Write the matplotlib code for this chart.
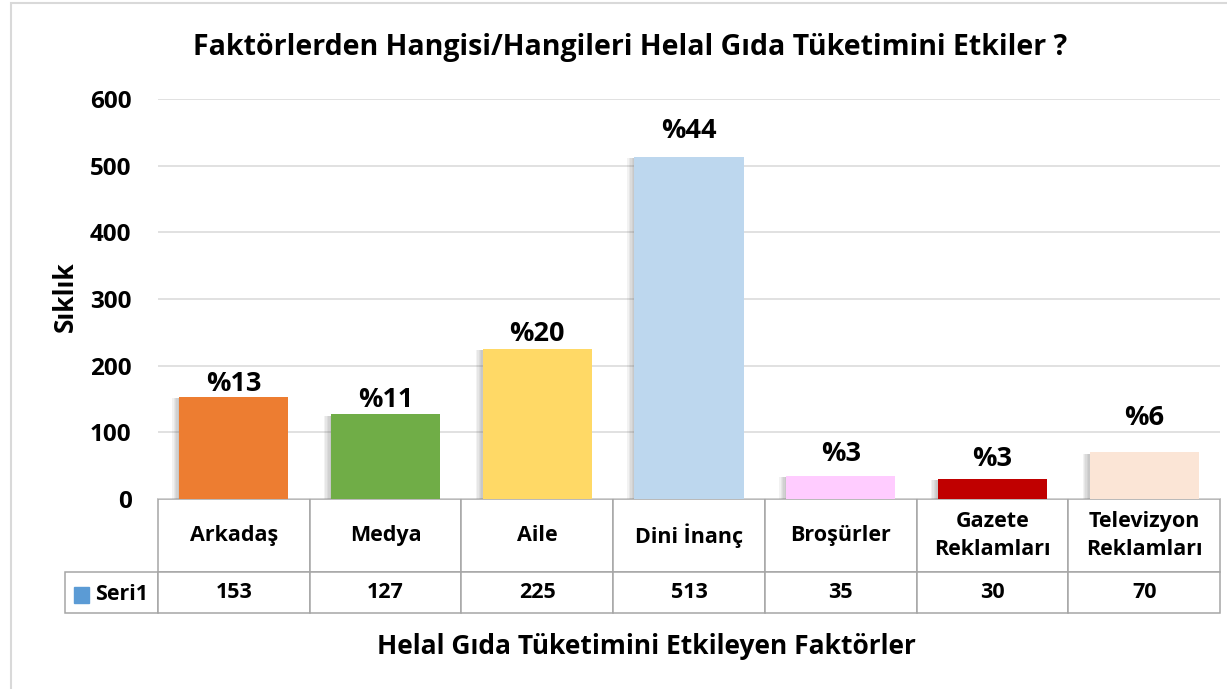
import matplotlib
matplotlib.use('Agg')
import matplotlib.pyplot as plt
from matplotlib import patheffects as pe
from matplotlib.patches import Rectangle

plt.rcParams['font.family'] = ['Open Sans', 'DejaVu Sans']
plt.rcParams['font.weight'] = 'bold'

# veriler
kategoriler = ['Arkadaş', 'Medya', 'Aile', 'Dini İnanç', 'Broşürler',
               'Gazete\nReklamları', 'Televizyon\nReklamları']
siklik = [153, 127, 225, 513, 35, 30, 70]
yuzde = ['%13', '%11', '%20', '%44', '%3', '%3', '%6']
renkler = ['#ED7D31', '#70AD47', '#FFD966', '#BDD7EE', '#FFCCFF', '#C00000', '#FBE5D6']
etiket_pay = [19, 21, 22, 39, 32, 30, 51]  # etiketlerin cubuk ustunden uzakligi
seri_adi = 'Seri1'

W, H = 1227, 689
fig = plt.figure(figsize=(W / 100, H / 100), dpi=100)
ax = fig.add_axes([158 / W, 190 / H, 1062 / W, 400 / H])

x = list(range(len(siklik)))
bars = ax.bar(x, siklik, width=0.72, color=renkler, zorder=3)
golge = [pe.SimplePatchShadow(offset=(-k, -1), shadow_rgbFace='#707070', alpha=0.09) for k in (1, 2, 3, 4, 5)]
for b in bars:
    b.set_path_effects(golge + [pe.Normal()])

for i, v in enumerate(siklik):
    ax.text(i, v + etiket_pay[i], yuzde[i], ha='center', va='center', fontsize=19.5, zorder=4)

ax.set_xlim(-0.5, 6.5)
ax.set_ylim(0, 600)
ax.set_yticks(range(0, 601, 100))
ax.set_xticks([])
ax.grid(axis='y', color='#D9D9D9', lw=1.1, zorder=0)
for s in ax.spines.values():
    s.set_visible(False)
ax.tick_params(axis='y', length=0, pad=19, labelsize=17.5)

# tablo
rl_w = 93 / 1062
tbl = ax.table(cellText=[[str(v) for v in siklik]], rowLabels=[''], colLabels=kategoriler,
               cellLoc='center', bbox=[0, -0.285, 1, 0.285])
tbl.auto_set_font_size(False)
tbl.set_fontsize(15.5)
tbl._autoColumns = []
for (r, c), cell in tbl.get_celld().items():
    cell.set_edgecolor('#A6A6A6')
    cell.set_linewidth(1.1)
    cell.set_height(0.1825 if r == 0 else 0.1025)
    cell.set_width(rl_w if c == -1 else 1 / 7)
    cell.get_text().set_fontweight('bold')
    cell.get_text().set_linespacing(1.4)

ax.add_patch(Rectangle((-0.0791, -0.26), 0.0141, 0.04, transform=ax.transAxes,
                       color='#5B9BD5', clip_on=False))
ax.text(-0.0593, -0.2375, seri_adi, transform=ax.transAxes, ha='left', va='center', fontsize=15.5)

fig.text(630 / W, 1 - 47 / H, 'Faktörlerden Hangisi/Hangileri Helal Gıda Tüketimini Etkiler ?',
         ha='center', va='center', fontsize=20.5)
fig.text(646 / W, 1 - 647 / H, 'Helal Gıda Tüketimini Etkileyen Faktörler',
         ha='center', va='center', fontsize=19)
fig.text(65 / W, 1 - 297 / H, 'Sıklık', rotation=90, ha='center', va='center', fontsize=19)

# dis cerceve
fig.patches.append(Rectangle((11 / W, -0.05), 1, 1.05 - 3 / H, transform=fig.transFigure,
                             fill=False, edgecolor='#D9D9D9', lw=1.5))

fig.savefig('out.png', dpi=100)
